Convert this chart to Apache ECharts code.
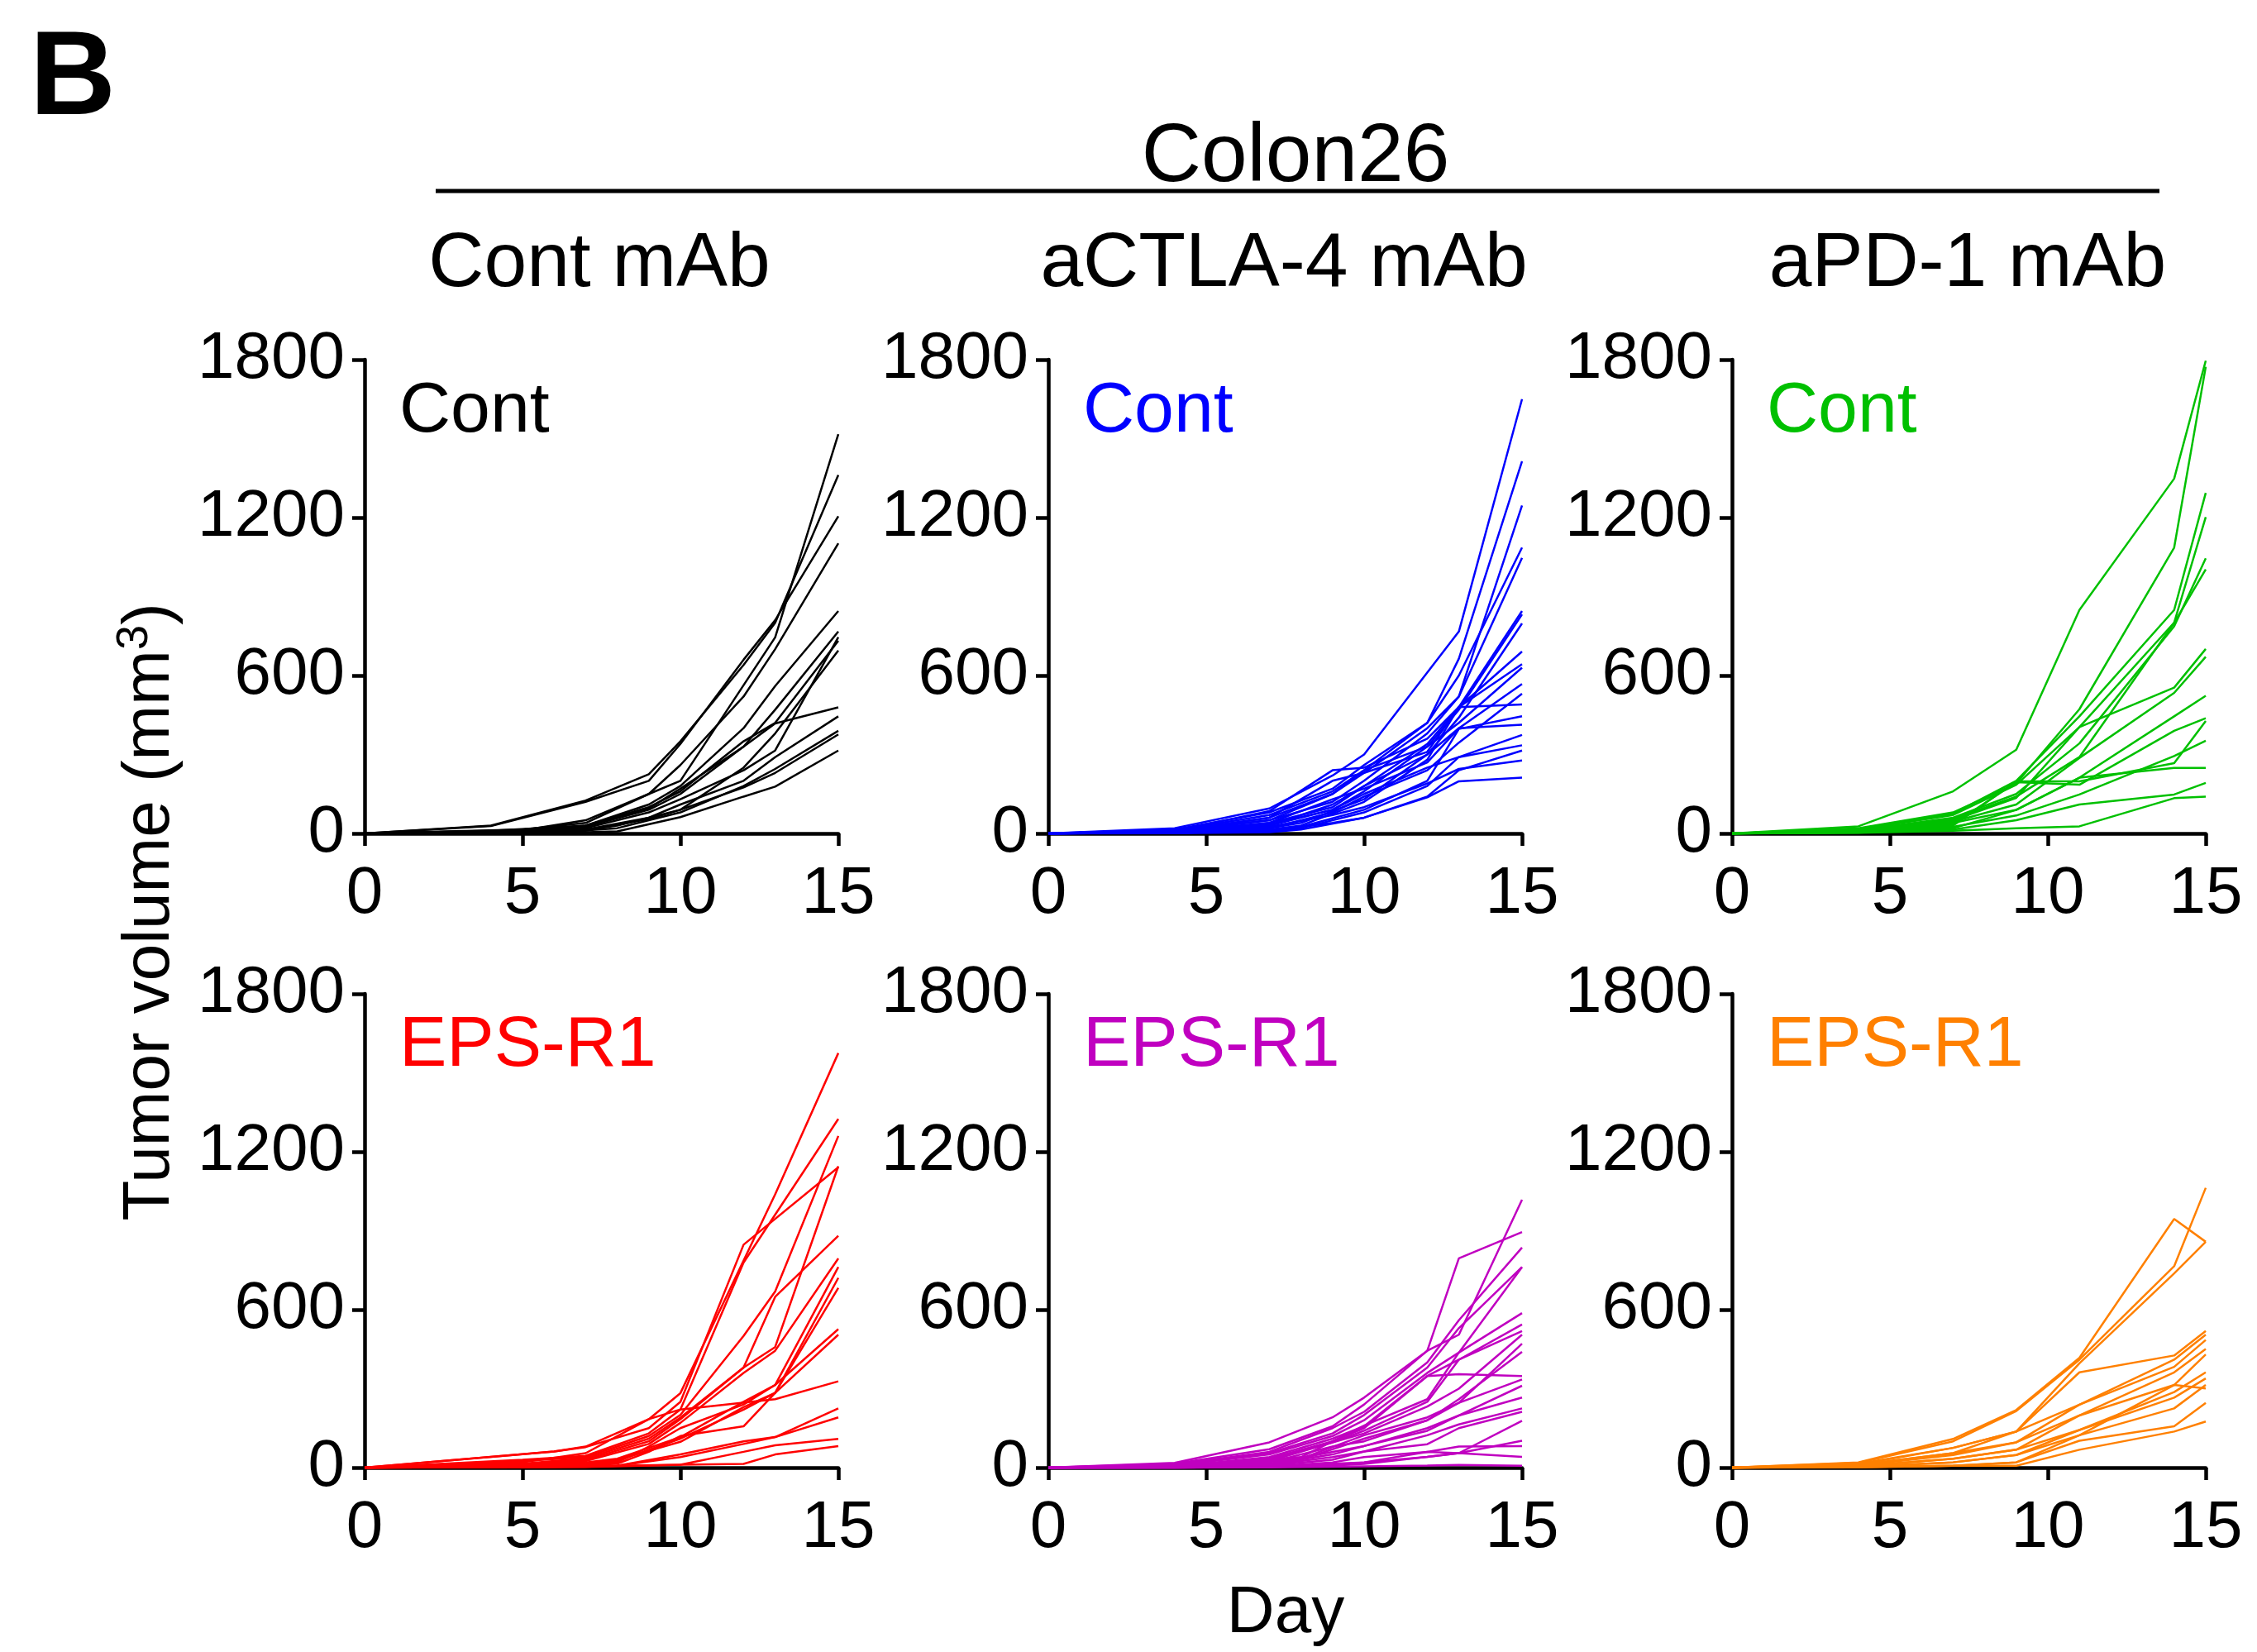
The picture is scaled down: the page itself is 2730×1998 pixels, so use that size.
<!DOCTYPE html>
<html>
<head>
<meta charset="utf-8">
<title>Colon26 tumor growth</title>
<script src="https://cdn.jsdelivr.net/npm/echarts@6/dist/echarts.min.js"></script>
<style>
  html, body { margin: 0; padding: 0; background: #fff; }
  #chart { width: 2730px; height: 1998px; }
</style>
</head>
<body>
<div id="chart"></div>
<script>
// ---- data (tumor volume, mm3, per mouse) ----
const xTicks = [0, 5, 10, 15];
const yTicks = [0, 600, 1200, 1800];
const columnTitles = ['Cont mAb', 'aCTLA-4 mAb', 'aPD-1 mAb'];
const rowLabels = ['Cont', 'EPS-R1'];

// Cont mAb / Cont (black)
const daysA = [0, 4, 5, 7, 8, 9, 10, 12, 13, 15];
const miceA = [
  [0, 30, null, 125, null, 225, 350, 640, 800, 1362],
  [0, 28, null, 120, null, 200, 340, 660, 810, 1205],
  [0, null, 15, 40, null, 150, 200, null, 745, 1517],
  [0, null, 12, 50, null, 150, 260, 520, 700, 1102],
  [0, 10, null, 30, null, 110, 180, 400, 560, 845],
  [0, null, 8, 25, null, 90, 150, 330, 470, 767],
  [0, null, 5, 20, null, 80, 130, 240, 315, 746],
  [0, null, 6, 30, null, 100, 160, 350, 420, 732],
  [0, 5, null, 15, 30, null, 90, 250, 380, 695],
  [0, 8, null, 28, null, 95, 170, 330, 418, 479],
  [0, null, 4, 15, null, 60, 110, 200, 290, 445],
  [0, null, 3, 12, 20, null, 80, 180, 245, 390],
  [0, 4, null, 10, null, 55, 90, 175, 230, 376],
  [0, null, 2, 5, 8, null, 62, 140, 178, 315]
];

// aCTLA-4 mAb / Cont (blue)
const daysB = [0, 4, 7, 8, 9, 10, 12, 13, 15];
const miceB = [
  [0, 20, 95, null, 220, 300, null, 767, 1650],
  [0, 15, 80, null, 170, 260, 420, 664, 1414],
  [0, 10, 60, null, 150, 230, 400, 520, 1246],
  [0, 12, 70, null, 160, 240, 420, 600, 1086],
  [0, 10, 50, null, 120, 200, 380, 520, 1047],
  [0, 8, 40, null, 100, 180, 340, 480, 845],
  [0, 5, 30, null, 90, 160, 330, 470, 832],
  [0, 5, 20, 40, null, 130, 300, 440, 798],
  [0, 3, 15, 30, null, 120, 280, 480, 691],
  [0, 10, 85, null, 240, 250, 360, 480, 643],
  [0, 6, 50, null, 150, 240, 330, 420, 630],
  [0, 4, 30, null, 110, 180, 300, 400, 568],
  [0, 3, 20, null, 80, 140, 240, 345, 531],
  [0, 8, 60, null, 200, 230, 310, 480, 490],
  [0, 2, 10, 25, null, 90, 200, 397, 445],
  [0, 5, 40, null, 130, 170, 270, 400, 413],
  [0, 2, 8, 20, null, 80, 180, 290, 374],
  [0, 4, 35, null, 90, 150, 250, 290, 335],
  [0, 1, 5, 15, null, 60, 140, 240, 315],
  [0, 3, 25, null, 70, 100, 190, 245, 277],
  [0, 2, 10, null, 40, 60, 137, 198, 212]
];

// aPD-1 mAb / Cont (green)
const daysC = [0, 4, 7, 9, 11, 14, 15];
const miceC = [
  [0, 27, 160, 318, 849, 1348, 1796],
  [0, 20, 80, 190, 472, 1086, 1773],
  [0, 15, 75, 200, 445, 849, 1294],
  [0, 15, 70, 185, 404, 801, 1202],
  [0, 12, 60, 150, 342, 787, 1045],
  [0, 10, 55, 140, 290, 800, 1003],
  [0, 10, 50, 135, 404, 554, 701],
  [0, 8, 45, 110, 287, 534, 671],
  [0, 8, 40, 90, 212, 445, 523],
  [0, 6, 35, 195, 185, 390, 438],
  [0, 5, 30, 198, 198, 267, 427],
  [0, 5, 25, 68, 148, 294, 352],
  [0, 4, 20, 89, 212, 249, 249],
  [0, 3, 15, 50, 110, 148, 192],
  [0, 2, 10, 20, 27, 134, 140]
];

// Cont mAb / EPS-R1 (red)
const daysD = [0, 5, 6, 7, 8, 9, 10, 12, 13, 15];
const miceD = [
  [0, 20, null, 55, null, 184, 283, null, 1038, 1575],
  [0, null, 61, 78, null, 150, 250, 847, null, 1141],
  [0, 30, null, 45, null, 130, 221, 779, null, 1325],
  [0, 25, null, 40, null, 120, 200, 500, 669, 1260],
  [0, 15, null, 35, null, 110, 190, 380, 458, 1145],
  [0, 10, null, 30, null, 100, 184, 380, 649, 881],
  [0, 10, null, 25, null, 90, 170, 360, 444, 795],
  [0, 8, null, 20, 34, null, 116, 250, 314, 762],
  [0, 5, null, 15, 30, null, 98, 230, 284, 721],
  [0, 5, null, 12, 25, null, 110, 220, 284, 683],
  [0, 4, null, 10, 20, 80, 150, 240, 314, 526],
  [0, 3, null, 8, 15, 60, 120, 157, 284, 505],
  [0, null, 61, 80, null, 184, 221, null, 260, 328],
  [0, 2, null, 5, 7, null, 50, 100, 116, 225],
  [0, 2, null, 5, 7, null, 40, 90, 116, 191],
  [0, 2, null, 3, 7, null, 11, 60, 85, 109],
  [0, 1, null, 2, 5, null, 11, 14, 50, 82]
];

// aCTLA-4 mAb / EPS-R1 (magenta)
const daysE = [0, 4, 7, 8, 9, 10, 12, 13, 15];
const miceE = [
  [0, 15, 70, null, 157, 240, 444, 795, 895],
  [0, 18, 96, null, 191, 266, 444, 505, 1018],
  [0, 12, 60, null, 150, 212, 400, 560, 836],
  [0, 10, 55, null, 130, 200, 380, 530, 762],
  [0, 8, 50, null, 120, 180, 360, 437, 762],
  [0, 6, null, 40, null, 160, 260, 437, 587],
  [0, 5, 40, null, 110, 157, 348, 410, 544],
  [0, 4, 35, null, 100, 150, 348, 355, 348],
  [0, 4, 30, null, 96, 140, 250, 410, 519],
  [0, 3, 25, null, 96, 130, 232, 300, 505],
  [0, 3, null, 34, null, 123, 191, 246, 471],
  [0, 2, null, 30, null, 110, 180, 260, 440],
  [0, 2, 20, null, 80, 100, 180, 246, 335],
  [0, 2, 15, null, 60, 82, 150, 198, 311],
  [0, 1, 12, null, 50, 82, 140, 198, 266],
  [0, 1, 10, null, 40, 61, 123, 164, 225],
  [0, 1, 8, null, 30, 61, 89, 150, 212],
  [0, 1, 5, null, 20, 40, 60, 55, 178],
  [0, 0, 3, null, 15, 20, 41, 55, 102],
  [0, 0, 2, null, 8, 14, 41, 55, 41],
  [0, 0, 1, null, 3, 5, 8, 10, 7],
  [0, 0, 2, null, 10, 20, 60, 80, 82]
];

// aPD-1 mAb / EPS-R1 (orange)
const daysF = [0, 4, 7, 9, 11, 14, 15];
const miceF = [
  [0, 20, 109, 219, 417, 945, 858],
  [0, 18, 100, 215, 410, 765, 1063],
  [0, 15, 75, 137, 396, 738, 858],
  [0, 12, 75, 137, 362, 426, 519],
  [0, 10, 55, 137, 239, 410, 505],
  [0, 10, 55, 96, 239, 383, 485],
  [0, 8, 48, 96, 198, 362, 451],
  [0, 6, 34, 68, 198, 314, 430],
  [0, 5, 34, 68, 143, 287, 362],
  [0, 4, 20, 48, 143, 266, 339],
  [0, 3, 20, 48, 123, 225, 314],
  [0, 2, 7, 20, 123, 314, 301],
  [0, 2, 7, 20, 102, 157, 246],
  [0, 1, 7, 7, 68, 137, 175]
];

const FONT = "'Liberation Sans', Arial, Helvetica, sans-serif";

// panel layout (px) and colours
const panels = [
  { days: daysA, mice: miceA, color: '#000000', label: rowLabels[0], left: 441, top: 435 },
  { days: daysB, mice: miceB, color: '#0000ff', label: rowLabels[0], left: 1268, top: 435 },
  { days: daysC, mice: miceC, color: '#00c000', label: rowLabels[0], left: 2095, top: 435 },
  { days: daysD, mice: miceD, color: '#ff0000', label: rowLabels[1], left: 441, top: 1202 },
  { days: daysE, mice: miceE, color: '#c000c0', label: rowLabels[1], left: 1268, top: 1202 },
  { days: daysF, mice: miceF, color: '#ff8000', label: rowLabels[1], left: 2095, top: 1202 }
];
const PW = 573, PH = 573;

const grids = [], xAxes = [], yAxes = [], series = [], graphics = [];
const plain = function (v) { return String(v); };

panels.forEach(function (p, i) {
  grids.push({ left: p.left, top: p.top, width: PW, height: PH, containLabel: false });
  xAxes.push({
    type: 'value', gridIndex: i, min: xTicks[0], max: xTicks[xTicks.length - 1], interval: 5,
    axisLine: { show: true, onZero: false, lineStyle: { color: '#000', width: 4.5 } },
    axisTick: { show: true, length: 15, lineStyle: { color: '#000', width: 4.5 } },
    axisLabel: { fontSize: 80, color: '#000', fontFamily: FONT, margin: 34, formatter: plain },
    splitLine: { show: false }
  });
  yAxes.push({
    type: 'value', gridIndex: i, min: yTicks[0], max: yTicks[yTicks.length - 1], interval: 600,
    axisLine: { show: true, onZero: false, lineStyle: { color: '#000', width: 4.5 } },
    axisTick: { show: true, length: 15, lineStyle: { color: '#000', width: 4.5 } },
    axisLabel: { fontSize: 80, color: '#000', fontFamily: FONT, margin: 24, formatter: plain },
    splitLine: { show: false }
  });
  p.mice.forEach(function (m) {
    const pts = [];
    p.days.forEach(function (d, k) {
      if (m[k] !== null) pts.push([d, m[k]]);
    });
    series.push({
      type: 'line', xAxisIndex: i, yAxisIndex: i, data: pts,
      symbol: 'none', silent: true, clip: false,
      lineStyle: { color: p.color, width: 2.5 }
    });
  });
  graphics.push({
    type: 'text', left: p.left + 42, top: p.top + 20,
    style: { text: p.label, fill: p.color, font: '86px ' + FONT }
  });
});

// figure letter, header, column titles, axis titles
graphics.push({ type: 'text', left: 36, top: 26, style: { text: 'B', fill: '#000', font: 'bold 144px ' + FONT } });
graphics.push({ type: 'text', x: 1567, y: 191, style: { text: 'Colon26', fill: '#000', font: '100px ' + FONT, align: 'center', verticalAlign: 'middle' } });
graphics.push({ type: 'line', shape: { x1: 527, y1: 231, x2: 2612, y2: 231 }, style: { stroke: '#000', lineWidth: 5 } });
[725, 1553, 2380].forEach(function (cx, j) {
  graphics.push({ type: 'text', x: cx, y: 320, style: { text: columnTitles[j], fill: '#000', font: '93px ' + FONT, align: 'center', verticalAlign: 'middle' } });
});
graphics.push({ type: 'text', x: 1555, y: 1952, style: { text: 'Day', fill: '#000', font: '80px ' + FONT, align: 'center', verticalAlign: 'middle' } });
graphics.push({
  type: 'text', x: 182, y: 1103, rotation: Math.PI / 2,
  style: {
    text: '{a|Tumor volume (mm}{s|3}{a|)}', align: 'center', verticalAlign: 'middle',
    rich: {
      a: { fontSize: 80, fontFamily: FONT, fill: '#000', lineHeight: 92 },
      s: { fontSize: 54, fontFamily: FONT, fill: '#000', verticalAlign: 'top', lineHeight: 92 }
    }
  }
});

const chart = echarts.init(document.getElementById('chart'), null, { renderer: 'canvas' });
chart.setOption({
  backgroundColor: '#ffffff',
  animation: false,
  grid: grids,
  xAxis: xAxes,
  yAxis: yAxes,
  series: series,
  graphic: graphics
});
</script>
</body>
</html>
